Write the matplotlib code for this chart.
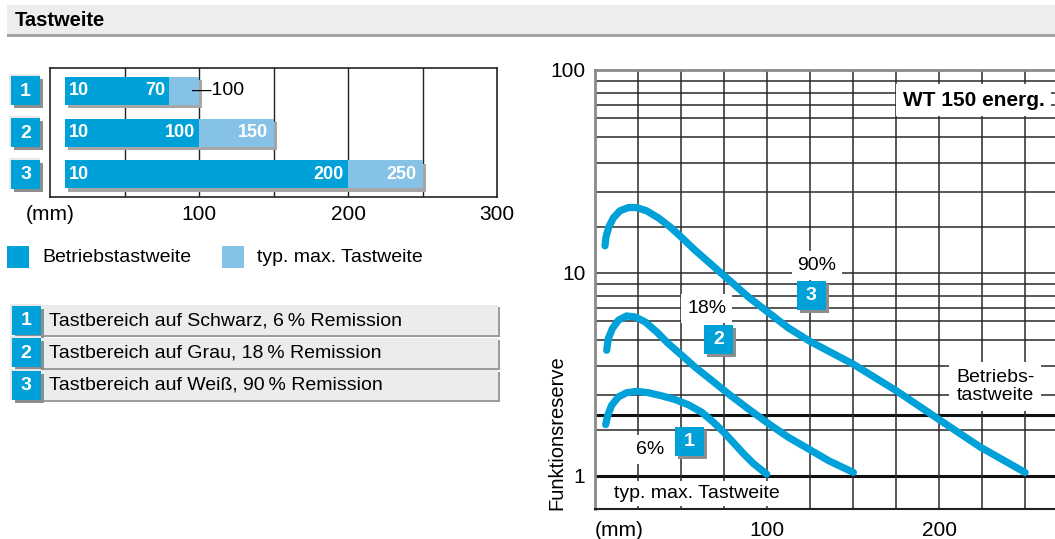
import numpy as np
import matplotlib.pyplot as plt
import matplotlib.patheffects as pe
from matplotlib.patches import Rectangle

plt.rcParams['font.family'] = ['Liberation Sans', 'DejaVu Sans']

BLUE = '#00a0d8'
LIGHT = '#86c1e6'
W, H = 1055, 539

# ---- left: Tastweite bars (mm) ----
rows = ['1', '2', '3']
bar_start = [10, 10, 10]
op_end = [80, 100, 200]          # end of dark bar as drawn
op_lab = ['70', '100', '200']
max_end = [100, 150, 250]
max_lab = ['100', '150', '250']

legend_txt = ['Betriebstastweite', 'typ. max. Tastweite']
table_txt = ['Tastbereich auf Schwarz, 6\u2009% Remission',
             'Tastbereich auf Grau, 18\u2009% Remission',
             'Tastbereich auf Wei\u00df, 90\u2009% Remission']

# ---- right: Funktionsreserve over distance (mm) ----
d1 = [6.2, 7.4, 9.7, 13.6, 18.4, 24.2, 31.0, 38.8, 46.5, 54.3, 62.0, 68.8,
      74.6, 80.4, 86.2, 92.1, 99.8]
r1 = [1.79, 1.99, 2.23, 2.45, 2.57, 2.61, 2.57, 2.48, 2.38, 2.24, 2.06, 1.84,
      1.65, 1.46, 1.29, 1.15, 1.02]
d2 = [6.8, 7.75, 10.1, 13.6, 18.4, 23.3, 29.1, 35.9, 42.6, 50.4, 58.1, 67.8,
      77.5, 89.1, 100.8, 112.4, 124.0, 135.7, 150.2]
r2 = [4.16, 4.75, 5.32, 5.85, 6.14, 6.07, 5.74, 5.12, 4.49, 3.93, 3.44, 2.96,
      2.54, 2.14, 1.81, 1.55, 1.36, 1.19, 1.04]
d3 = [5.8, 6.4, 8.1, 10.7, 14.5, 19.4, 24.2, 30.0, 36.8, 43.6, 50.4, 58.1,
      65.9, 73.6, 81.4, 89.1, 100.8, 112.4, 125.0, 150.2, 175.4, 200.6, 223.8, 250.0]
r3 = [13.6, 15.07, 16.88, 18.69, 20.24, 21.0, 21.0, 20.24, 18.69, 16.88, 14.95, 12.95,
      11.34, 9.93, 8.70, 7.62, 6.38, 5.36, 4.6, 3.55, 2.62, 1.88, 1.39, 1.04]

pct_lab = [('6%', 32, 1.35), ('18%', 65, 6.7), ('90%', 129, 10.9)]
badge_pos = [('1', 55, 1.48), ('2', 72, 4.71), ('3', 125.6, 7.77)]

# odd grid of the original drawing (multipliers within a decade)
grid_mult = [1.69, 2.51, 3.48, 4.70, 5.77, 6.73, 7.67, 8.83]
grid_x = np.arange(25, 251, 25)


def frac(x0, y0, x1, y1):
    return [x0 / W, 1 - y1 / H, (x1 - x0) / W, (y1 - y0) / H]


fig = plt.figure(figsize=(W / 100, H / 100), dpi=100)

# bar chart
ax1 = fig.add_axes(frac(50, 68, 497, 197))
ax1.set_xlim(0, 300)
ax1.set_ylim(2.54, -0.55)
for x in [50, 100, 150, 200, 250]:
    ax1.axvline(x, color='#222222', lw=1.0, zorder=0)
shadow = [pe.SimplePatchShadow(offset=(2.5, -2.5), shadow_rgbFace='#a6a6a6', alpha=1), pe.Normal()]
y = np.arange(len(rows))
b1 = ax1.barh(y, np.array(op_end) - np.array(bar_start), left=bar_start, height=0.67,
              color=BLUE, zorder=2)
b2 = ax1.barh(y, np.array(max_end) - np.array(op_end), left=op_end, height=0.67,
              color=LIGHT, zorder=2)
for p in list(b1) + list(b2):
    p.set_path_effects(shadow)
for i in range(len(rows)):
    ax1.annotate(str(bar_start[i]), (bar_start[i], i), xytext=(3, 0), textcoords='offset points',
                 color='white', weight='bold', size=13, ha='left', va='center', zorder=3)
    ax1.annotate(op_lab[i], (op_end[i], i), xytext=(-3, 0), textcoords='offset points',
                 color='white', weight='bold', size=13, ha='right', va='center', zorder=3)
    if max_end[i] > op_end[i] + 30:
        ax1.annotate(max_lab[i], (max_end[i], i), xytext=(-4, 0), textcoords='offset points',
                     color='white', weight='bold', size=13, ha='right', va='center', zorder=3)
    else:
        ax1.annotate('\u2014' + max_lab[i], (max_end[i], i), xytext=(-5, 0), textcoords='offset points',
                     color='black', size=14, ha='left', va='center', zorder=3)
ax1.set_yticks([])
ax1.set_xticks([0, 100, 200, 300], ['(mm)', '100', '200', '300'], fontsize=15)
ax1.tick_params(axis='x', length=0, pad=6)
for s in ax1.spines.values():
    s.set_linewidth(1.2)
    s.set_color('#222222')

# Funktionsreserve chart
ax2 = fig.add_axes(frac(595, 70, 1055, 509))
ax2.set_yscale('log')
ax2.set_xlim(0, 267.4)
ax2.set_ylim(0.687, 100)
for dec in [1, 10]:
    for m in grid_mult:
        ax2.axhline(dec * m, color='#2a2a2a', lw=1.1, zorder=0)
ax2.axhline(10, color='#2a2a2a', lw=1.1, zorder=0)
ax2.axhline(1, color='#111111', lw=2.2, zorder=0)
ax2.axhline(2, color='#111111', lw=2.2, zorder=0)
for x in grid_x:
    ax2.axvline(x, color='#2a2a2a', lw=1.1, zorder=0)
for d, r in [(d1, r1), (d2, r2), (d3, r3)]:
    ax2.plot(d, r, color=BLUE, lw=5.2, solid_capstyle='round', solid_joinstyle='round', zorder=3)
ax2.yaxis.set_minor_locator(plt.NullLocator())
ax2.set_yticks([1, 10, 100], ['1', '10', '100'], fontsize=15)
ax2.set_xticks([0, 100, 200], ['(mm)', '100', '200'], fontsize=15)
ax2.get_xticklabels()[0].set_ha('left')
ax2.tick_params(length=0)
ax2.tick_params(axis='y', pad=7)
ax2.tick_params(axis='x', pad=9)
ax2.set_ylabel('Funktionsreserve', fontsize=14.5, va='center')
ax2.yaxis.set_label_coords(-0.083, 0.175)
ax2.spines['right'].set_visible(False)
for k in ['left', 'top']:
    ax2.spines[k].set_color('#8a8a8a')
    ax2.spines[k].set_linewidth(2)
ax2.spines['bottom'].set_color('#222222')
ax2.spines['bottom'].set_linewidth(1.5)

wbox = dict(boxstyle='square,pad=0.3', fc='white', ec='none')
for t, x, v in pct_lab:
    ax2.text(x, v, t, fontsize=14, ha='center', va='center', bbox=wbox, zorder=4)
ax2.text(232.8, 2.76, 'Betriebs-\ntastweite', fontsize=14, ha='center', va='center',
         linespacing=1.05, bbox=dict(boxstyle='square,pad=0.35', fc='white', ec='none'), zorder=4)
ax2.text(59.3, 0.82, 'typ. max. Tastweite', fontsize=14, ha='center', va='center',
         bbox=dict(boxstyle='square,pad=0.2', fc='white', ec='none'), zorder=4)
ax2.text(220, 71, 'WT 150 energ.', fontsize=15, weight='bold', ha='center', va='center',
         bbox=dict(boxstyle='square,pad=0.3', fc='white', ec='none'), zorder=4)

# overlay in pixel coordinates for header, badges, legend and table
ov = fig.add_axes([0, 0, 1, 1], zorder=10)
ov.set_xlim(0, W)
ov.set_ylim(H, 0)
ov.axis('off')


def badge(cx, cy, t, s=29, edge=True):
    if edge:
        ov.add_patch(Rectangle((cx - s / 2 - 2, cy - s / 2 - 2), s + 2, s + 2, fc='#e8e8e8', ec='none'))
    ov.add_patch(Rectangle((cx - s / 2 + 3, cy - s / 2 + 3), s, s, fc='#8e8e8e', ec='none'))
    ov.add_patch(Rectangle((cx - s / 2, cy - s / 2), s, s, fc=BLUE, ec='none'))
    ov.text(cx, cy + 0.5, t, color='white', weight='bold', size=14, ha='center', va='center')


def to_px(ax, x, v):
    px = ax.transData.transform((x, v))
    return px[0], H - px[1]


ov.add_patch(Rectangle((7, 5), W - 7, 30, fc='#ededed', ec='none'))
ov.add_patch(Rectangle((7, 34), W - 7, 2.5, fc='#a3a3a3', ec='none'))
ov.text(15, 20.5, 'Tastweite', weight='bold', size=14.5, ha='left', va='center')

for i, t in enumerate(rows):
    _, cy = to_px(ax1, 0, i)
    badge(25.5, cy, t)

for t, x, v in badge_pos:
    cx, cy = to_px(ax2, x, v)
    badge(cx, cy, t, edge=False)

ov.add_patch(Rectangle((7, 246), 22, 22, fc=BLUE, ec='none'))
ov.text(42, 257.5, legend_txt[0], size=14, ha='left', va='center')
ov.add_patch(Rectangle((222, 246), 22, 22, fc=LIGHT, ec='none'))
ov.text(257, 257.5, legend_txt[1], size=14, ha='left', va='center')

for i, t in enumerate(table_txt):
    top = 305 + i * 32.5
    ov.add_patch(Rectangle((44, top + 2), 456, 30, fc='#9c9c9c', ec='none'))
    ov.add_patch(Rectangle((42, top), 456, 30, fc='#ececec', ec='none'))
    badge(26, top + 15, str(i + 1))
    ov.text(49, top + 15.5, t, size=14, ha='left', va='center')

fig.savefig('out.png', dpi=100)
